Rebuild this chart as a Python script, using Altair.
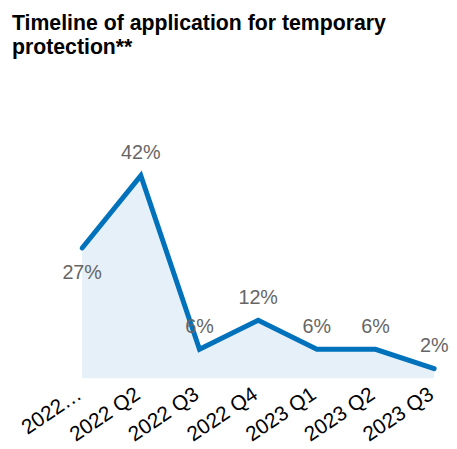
import altair as alt
import pandas as pd

quarters = ["2022 Q1", "2022 Q2", "2022 Q3", "2022 Q4", "2023 Q1", "2023 Q2", "2023 Q3"]
shares = [27, 42, 6, 12, 6, 6, 2]
label_text = ["27%", "42%", "6%", "12%", "6%", "6%", "2%"]

df = pd.DataFrame({"quarter": quarters, "share": shares, "label": label_text})

FONT = "Liberation Sans"

x = alt.X(
    "quarter:N",
    sort=quarters,
    scale=alt.Scale(type="point", padding=0),
    axis=alt.Axis(
        title=None,
        labelAngle=-34,
        labelFontSize=21,
        labelFont=FONT,
        labelColor="#000000",
        labelAlign="right",
        labelBaseline="middle",
        labelPadding=14,
        labelOffset=-3,
        ticks=False,
        domain=False,
        grid=False,
        labelExpr="datum.value == '2022 Q1' ? '2022…' : datum.label",
    ),
)
y = alt.Y("share:Q", scale=alt.Scale(domain=[0, 50]), axis=None)

base = alt.Chart(df).encode(x=x, y=y)

area = base.mark_area(color="#E5F0F8", opacity=1)
line = base.mark_line(color="#0072BC", strokeWidth=5, strokeCap="round", strokeJoin="miter")
labels_above = base.mark_text(
    fontSize=20, font=FONT, color="#666666", dy=-23, baseline="middle"
).encode(text="label:N").transform_filter("datum.quarter != '2022 Q1'")
labels_below = base.mark_text(
    fontSize=20, font=FONT, color="#666666", dy=25, baseline="middle"
).encode(text="label:N").transform_filter("datum.quarter == '2022 Q1'")

chart = (
    alt.layer(area, line, labels_above, labels_below)
    .properties(
        width=356,
        height=244,
        padding={"left": 75, "top": 128, "right": 15, "bottom": 66},
        autosize=alt.AutoSizeParams(type="none"),
        title=alt.TitleParams(
            text=["Timeline of application for temporary", "protection**"],
            anchor="start",
            frame="group",
            font=FONT,
            fontSize=21.5,
            fontWeight="bold",
            color="#000000",
            lineHeight=25,
            offset=79,
            dx=-71,
        ),
    )
    .configure_view(stroke=None)
)

chart.save("out.html", embed_options={"renderer": "svg", "actions": False})
